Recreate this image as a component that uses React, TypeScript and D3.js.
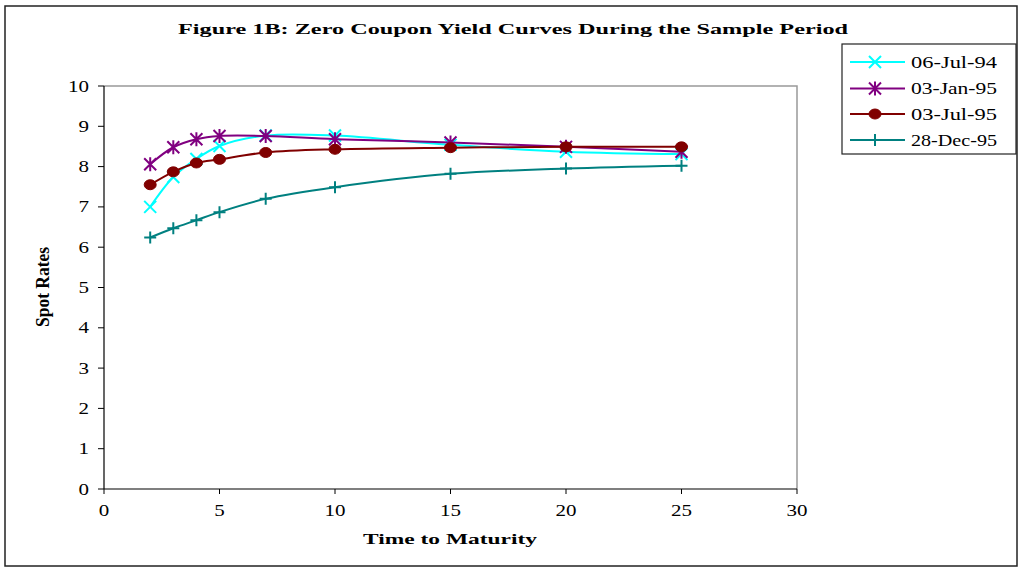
import React from "react";
import * as d3 from "d3";

const maturities = [2, 3, 4, 5, 7, 10, 15, 20, 25];
const jul94 = [7.0, 7.74, 8.19, 8.51, 8.77, 8.77, 8.54, 8.37, 8.31];
const jan95 = [8.06, 8.48, 8.68, 8.76, 8.76, 8.68, 8.6, 8.49, 8.37];
const jul95 = [7.55, 7.87, 8.09, 8.18, 8.35, 8.43, 8.47, 8.49, 8.49];
const dec95 = [6.24, 6.47, 6.67, 6.87, 7.2, 7.49, 7.82, 7.95, 8.02];
const seriesNames = ["06-Jul-94", "03-Jan-95", "03-Jul-95", "28-Dec-95"];
const seriesColors = ["#00FFFF", "#800080", "#800000", "#008080"];
const seriesMarkers = ["x", "star", "circle", "plus"];
const xTicks = [0, 5, 10, 15, 20, 25, 30];
const yTicks = [0, 1, 2, 3, 4, 5, 6, 7, 8, 9, 10];

const FONT = "'Liberation Serif', 'Times New Roman', serif";

function Marker({ type, x, y, color }: { type: string; x: number; y: number; color: string }) {
  if (type === "x") {
    const s = 6;
    return (
      <path d={`M${x - s},${y - s}L${x + s},${y + s}M${x - s},${y + s}L${x + s},${y - s}`} stroke={color} strokeWidth={2} />
    );
  }
  if (type === "star") {
    const s = 6;
    return (
      <path
        d={`M${x - s},${y - s}L${x + s},${y + s}M${x - s},${y + s}L${x + s},${y - s}M${x},${y - s - 1}L${x},${y + s + 1}`}
        stroke={color}
        strokeWidth={2}
      />
    );
  }
  if (type === "circle") {
    return <ellipse cx={x} cy={y} rx={6} ry={5} fill={color} stroke={color} strokeWidth={1} />;
  }
  const s = 6;
  return <path d={`M${x - s},${y}L${x + s},${y}M${x},${y - s}L${x},${y + s}`} stroke={color} strokeWidth={2} />;
}

export default function App() {
  const W = 1019;
  const H = 567;
  const x = d3.scaleLinear().domain([0, 30]).range([104, 797]);
  const y = d3.scaleLinear().domain([0, 10]).range([489, 86]);
  const allSeries = [jul94, jan95, jul95, dec95];
  const line = d3
    .line<[number, number]>()
    .x((d) => x(d[0]))
    .y((d) => y(d[1]))
    .curve(d3.curveCatmullRom.alpha(0.5));

  const legendYs = [62, 88.5, 114, 140];

  return (
    <svg width={W} height={H} style={{ position: "absolute", left: 0, top: 0 }} fontFamily={FONT}>
      <rect x={0} y={0} width={W} height={H} fill="#fff" />
      <rect x={5} y={6} width={1012} height={560} fill="#fff" stroke="#222" strokeWidth={1.5} />
      <text
        x={513}
        y={34}
        textAnchor="middle"
        fontWeight="bold"
        fontSize={15}
        textLength={670}
        lengthAdjust="spacingAndGlyphs"
      >
        Figure 1B: Zero Coupon Yield Curves During the Sample Period
      </text>
      {/* plot frame */}
      <path d={`M104,86H797V489`} fill="none" stroke="#999" strokeWidth={1.5} />
      <line x1={104} y1={86} x2={104} y2={489} stroke="#000" strokeWidth={1.2} />
      <line x1={104} y1={489} x2={797} y2={489} stroke="#000" strokeWidth={1.2} />
      {yTicks.map((t) => (
        <g key={"y" + t}>
          <line x1={98} x2={104} y1={y(t)} y2={y(t)} stroke="#000" />
          <text
            x={89}
            y={y(t) + 5.5}
            textAnchor="end"
            fontSize={16}
            textLength={10.5 * String(t).length}
            lengthAdjust="spacingAndGlyphs"
          >
            {t}
          </text>
        </g>
      ))}
      {xTicks.map((t) => (
        <g key={"x" + t}>
          <line x1={x(t)} x2={x(t)} y1={489} y2={494} stroke="#000" />
          <text
            x={x(t)}
            y={516}
            textAnchor="middle"
            fontSize={16}
            textLength={10.5 * String(t).length}
            lengthAdjust="spacingAndGlyphs"
          >
            {t}
          </text>
        </g>
      ))}
      <text x={450} y={544} textAnchor="middle" fontWeight="bold" fontSize={15} textLength={174} lengthAdjust="spacingAndGlyphs">
        Time to Maturity
      </text>
      <text
        transform={`translate(49,287) rotate(-90)`}
        textAnchor="middle"
        fontWeight="bold"
        fontSize={19}
        textLength={80}
        lengthAdjust="spacingAndGlyphs"
      >
        Spot Rates
      </text>
      {allSeries.map((vals, i) => {
        const pts: [number, number][] = maturities.map((m, j) => [m, vals[j]]);
        return (
          <g key={seriesNames[i]}>
            <path d={line(pts) || ""} fill="none" stroke={seriesColors[i]} strokeWidth={2} />
            {pts.map((p, j) => (
              <Marker key={j} type={seriesMarkers[i]} x={x(p[0])} y={y(p[1])} color={seriesColors[i]} />
            ))}
          </g>
        );
      })}
      {/* legend */}
      <rect x={842} y={44} width={174} height={110} fill="#fff" stroke="#222" strokeWidth={1.2} />
      {seriesNames.map((n, i) => (
        <g key={n}>
          <line x1={850} x2={905} y1={legendYs[i]} y2={legendYs[i]} stroke={seriesColors[i]} strokeWidth={2} />
          <Marker type={seriesMarkers[i]} x={875} y={legendYs[i]} color={seriesColors[i]} />
          <text x={911} y={legendYs[i] + 5.5} fontSize={16} textLength={86} lengthAdjust="spacingAndGlyphs">
            {n}
          </text>
        </g>
      ))}
    </svg>
  );
}
